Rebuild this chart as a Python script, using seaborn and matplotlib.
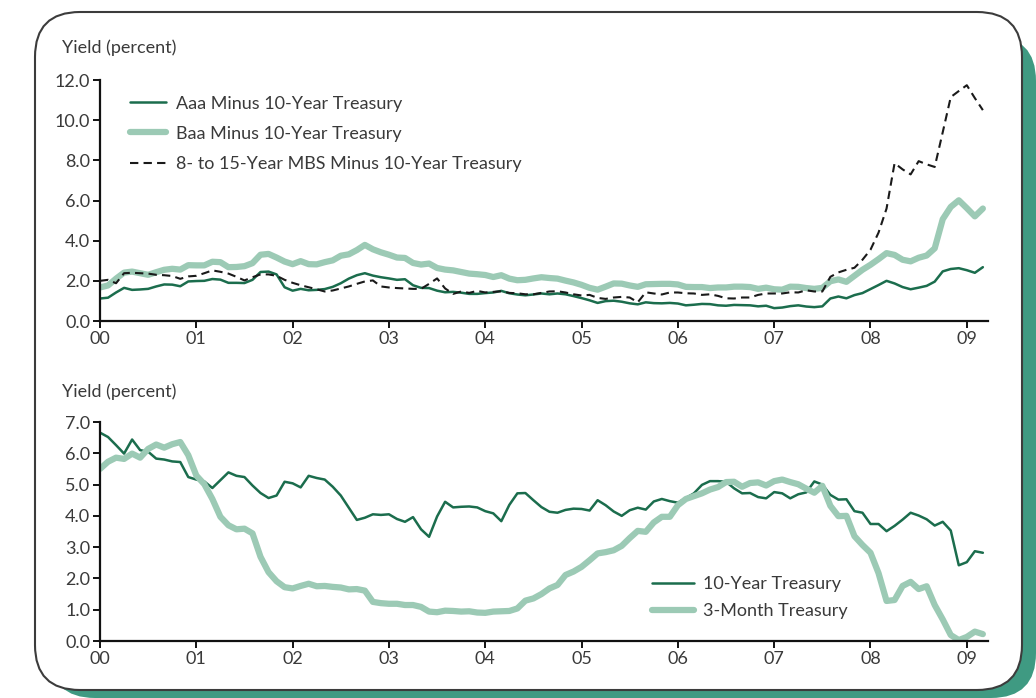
import numpy as np
import pandas as pd
import seaborn as sns
import matplotlib.pyplot as plt
from matplotlib.patches import FancyBboxPatch
from matplotlib.ticker import FormatStrFormatter

# monthly data, Jan 2000 - Mar 2009 (percent)
aaa_spread = [1.12, 1.16, 1.42, 1.65, 1.55, 1.57, 1.60, 1.72, 1.82, 1.81, 1.73, 1.97,
              1.99, 2.00, 2.09, 2.06, 1.90, 1.90, 1.89, 2.05, 2.44, 2.46, 2.32, 1.68,
              1.51, 1.60, 1.53, 1.55, 1.59, 1.70, 1.88, 2.11, 2.28, 2.38, 2.26, 2.18,
              2.12, 2.05, 2.08, 1.78, 1.65, 1.64, 1.51, 1.43, 1.45, 1.41, 1.35, 1.35,
              1.39, 1.42, 1.50, 1.38, 1.32, 1.28, 1.32, 1.37, 1.33, 1.37, 1.33, 1.24,
              1.14, 1.03, 0.90, 0.99, 1.01, 0.96, 0.88, 0.83, 0.93, 0.89, 0.88, 0.90,
              0.87, 0.78, 0.81, 0.85, 0.84, 0.78, 0.76, 0.80, 0.79, 0.78, 0.73, 0.76,
              0.64, 0.67, 0.74, 0.78, 0.72, 0.69, 0.73, 1.12, 1.22, 1.13, 1.29, 1.39,
              1.59, 1.79, 2.00, 1.87, 1.69, 1.58, 1.66, 1.75, 1.96, 2.47, 2.59, 2.63,
              2.53, 2.40, 2.68]
baa_spread = [1.67, 1.77, 2.11, 2.41, 2.46, 2.38, 2.30, 2.43, 2.55, 2.60, 2.56, 2.78,
              2.77, 2.77, 2.95, 2.93, 2.68, 2.69, 2.73, 2.88, 3.30, 3.34, 3.16, 2.96,
              2.83, 2.98, 2.83, 2.82, 2.93, 3.02, 3.25, 3.32, 3.53, 3.79, 3.57, 3.42,
              3.30, 3.16, 3.14, 2.89, 2.81, 2.86, 2.64, 2.56, 2.52, 2.44, 2.36, 2.33,
              2.29, 2.19, 2.28, 2.11, 2.03, 2.05, 2.12, 2.18, 2.14, 2.11, 2.01, 1.92,
              1.80, 1.65, 1.56, 1.71, 1.87, 1.86, 1.77, 1.70, 1.83, 1.84, 1.85, 1.85,
              1.82, 1.70, 1.69, 1.69, 1.64, 1.67, 1.67, 1.71, 1.71, 1.69, 1.60, 1.66,
              1.58, 1.56, 1.71, 1.70, 1.64, 1.60, 1.65, 1.98, 2.07, 1.95, 2.25, 2.55,
              2.80, 3.08, 3.38, 3.29, 3.05, 2.97, 3.15, 3.26, 3.62, 5.07, 5.68, 6.01,
              5.62, 5.21, 5.60]
mbs_spread = [2.00, 2.05, 1.88, 2.38, 2.40, 2.38, 2.36, 2.30, 2.28, 2.24, 2.10, 2.22,
              2.25, 2.38, 2.52, 2.45, 2.36, 2.20, 2.02, 2.18, 2.32, 2.32, 2.25, 2.05,
              1.90, 1.78, 1.68, 1.58, 1.47, 1.52, 1.62, 1.72, 1.85, 1.97, 2.02, 1.72,
              1.67, 1.64, 1.62, 1.60, 1.60, 1.85, 2.12, 1.62, 1.35, 1.47, 1.40, 1.50,
              1.42, 1.45, 1.48, 1.40, 1.38, 1.33, 1.33, 1.40, 1.47, 1.48, 1.42, 1.33,
              1.27, 1.30, 1.15, 1.10, 1.17, 1.20, 1.17, 0.93, 1.43, 1.37, 1.32, 1.42,
              1.42, 1.38, 1.37, 1.30, 1.33, 1.25, 1.13, 1.12, 1.17, 1.17, 1.30, 1.37,
              1.37, 1.37, 1.43, 1.42, 1.53, 1.47, 1.47, 2.20, 2.42, 2.55, 2.65, 3.05,
              3.55, 4.40, 5.60, 7.86, 7.55, 7.30, 7.96, 7.80, 7.67, 9.40, 11.15, 11.45,
              11.74, 11.10, 10.50]
t10 = [6.66, 6.52, 6.26, 5.99, 6.44, 6.10, 6.05, 5.83, 5.80, 5.74, 5.72, 5.24,
       5.16, 5.10, 4.89, 5.14, 5.39, 5.28, 5.24, 4.97, 4.73, 4.57, 4.65, 5.09,
       5.04, 4.91, 5.28, 5.21, 5.16, 4.93, 4.65, 4.26, 3.87, 3.94, 4.05, 4.03,
       4.05, 3.90, 3.81, 3.96, 3.57, 3.33, 3.98, 4.45, 4.27, 4.29, 4.30, 4.27,
       4.15, 4.08, 3.83, 4.35, 4.72, 4.73, 4.50, 4.28, 4.13, 4.10, 4.19, 4.23,
       4.22, 4.17, 4.50, 4.34, 4.14, 4.00, 4.18, 4.26, 4.20, 4.46, 4.54, 4.47,
       4.42, 4.57, 4.72, 4.99, 5.11, 5.11, 5.09, 4.88, 4.72, 4.73, 4.60, 4.56,
       4.76, 4.72, 4.56, 4.69, 4.75, 5.10, 5.00, 4.67, 4.52, 4.53, 4.15, 4.10,
       3.74, 3.74, 3.51, 3.68, 3.88, 4.10, 4.01, 3.89, 3.69, 3.81, 3.53, 2.42,
       2.52, 2.87, 2.82]
t3m = [5.50, 5.73, 5.86, 5.82, 5.99, 5.86, 6.14, 6.28, 6.18, 6.29, 6.36, 5.94,
       5.29, 5.01, 4.54, 3.97, 3.70, 3.57, 3.59, 3.44, 2.69, 2.20, 1.91, 1.72,
       1.68, 1.76, 1.83, 1.75, 1.76, 1.73, 1.71, 1.65, 1.66, 1.61, 1.25, 1.21,
       1.19, 1.19, 1.15, 1.15, 1.09, 0.94, 0.92, 0.97, 0.96, 0.94, 0.95, 0.91,
       0.90, 0.94, 0.95, 0.96, 1.04, 1.29, 1.36, 1.50, 1.68, 1.79, 2.11, 2.22,
       2.37, 2.58, 2.80, 2.84, 2.90, 3.04, 3.29, 3.52, 3.49, 3.79, 3.97, 3.97,
       4.34, 4.54, 4.63, 4.72, 4.84, 4.92, 5.08, 5.09, 4.93, 5.05, 5.07, 4.97,
       5.11, 5.16, 5.08, 5.01, 4.87, 4.74, 4.96, 4.32, 3.99, 4.00, 3.35, 3.07,
       2.82, 2.17, 1.28, 1.31, 1.76, 1.89, 1.66, 1.75, 1.15, 0.69, 0.19, 0.03,
       0.13, 0.30, 0.22]
year_labels = ["00", "01", "02", "03", "04", "05", "06", "07", "08", "09"]

t = np.arange(len(t10)) / 12.0  # years since Jan 2000

df = pd.DataFrame({"t": t, "aaa": aaa_spread, "baa": baa_spread,
                   "mbs": mbs_spread, "t10": t10, "t3m": t3m})

sns.set_style("ticks")
plt.rcParams["font.family"] = ["Lato", "DejaVu Sans"]
plt.rcParams["font.size"] = 13
txt = "#3a3a3a"

dark = "#1b6d4d"
light = "#9ccab5"

fig = plt.figure(figsize=(10.36, 6.98), dpi=100)

# rounded panel with teal shadow
shadow = FancyBboxPatch((0.5, 0.0), 9.86, 6.62, boxstyle="round,pad=0,rounding_size=0.45",
                        transform=fig.dpi_scale_trans, facecolor="#3f9a82",
                        edgecolor="none", zorder=-3)
panel = FancyBboxPatch((0.35, 0.08), 9.87, 6.78, boxstyle="round,pad=0,rounding_size=0.45",
                       transform=fig.dpi_scale_trans, facecolor="white",
                       edgecolor="#3c3c3c", lw=1.5, zorder=-2)
fig.add_artist(shadow)
fig.add_artist(panel)

ax1 = fig.add_axes([100 / 1036, 1 - 321 / 698, 888 / 1036, 241 / 698])
ax2 = fig.add_axes([100 / 1036, 1 - 641 / 698, 888 / 1036, 219 / 698])

sns.lineplot(data=df, x="t", y="aaa", ax=ax1, color=dark, lw=1.8,
             label="Aaa Minus 10-Year Treasury")
sns.lineplot(data=df, x="t", y="baa", ax=ax1, color=light, lw=4.5,
             label="Baa Minus 10-Year Treasury")
sns.lineplot(data=df, x="t", y="mbs", ax=ax1, color="#1a1a1a", lw=1.5,
             linestyle=(0, (4, 2.5)), label="8- to 15-Year MBS Minus 10-Year Treasury")

sns.lineplot(data=df, x="t", y="t10", ax=ax2, color=dark, lw=1.8, label="10-Year Treasury")
sns.lineplot(data=df, x="t", y="t3m", ax=ax2, color=light, lw=4.5, label="3-Month Treasury")

for ax, top in ((ax1, 12), (ax2, 7)):
    ax.set_facecolor("none")
    ax.set_xlim(0, 9.22)
    ax.set_ylim(0, top)
    ax.set_yticks(np.arange(0, top + 0.1, 2 if top == 12 else 1))
    ax.yaxis.set_major_formatter(FormatStrFormatter("%.1f"))
    ax.set_xticks(np.arange(10))
    ax.set_xticklabels(year_labels)
    ax.set_xlabel("")
    ax.set_ylabel("")
    sns.despine(ax=ax)
    for s in ("left", "bottom"):
        ax.spines[s].set_linewidth(1.6)
        ax.spines[s].set_color("#111111")
    ax.tick_params(length=5, width=1.4, color="#111111", labelcolor=txt, labelsize=13, pad=2)

ax1.legend(loc="upper left", bbox_to_anchor=(0.026, 0.965), frameon=False,
           handlelength=2.0, handletextpad=0.55, labelspacing=0.78, fontsize=13,
           labelcolor=txt, borderaxespad=0)
ax2.legend(loc="upper left", bbox_to_anchor=(0.614, 0.33), frameon=False,
           handlelength=2.3, handletextpad=0.5, labelspacing=0.62, fontsize=13,
           labelcolor=txt, borderaxespad=0)

fig.text(62 / 1036, 1 - 48 / 698, "Yield (percent)", ha="left", va="center", color=txt, fontsize=13)
fig.text(62 / 1036, 1 - 392 / 698, "Yield (percent)", ha="left", va="center", color=txt, fontsize=13)

fig.savefig("out.png", dpi=100)
